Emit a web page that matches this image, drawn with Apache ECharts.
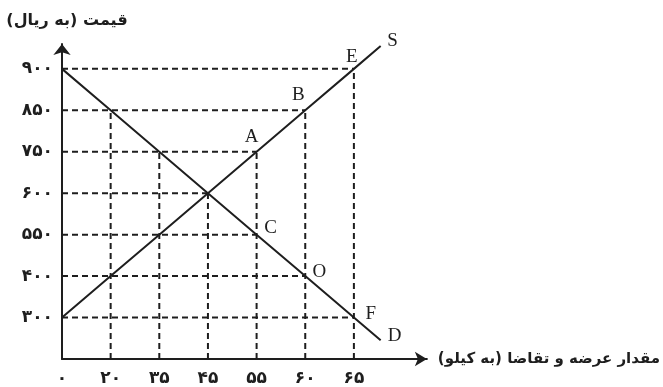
<!DOCTYPE html>
<html>
<head>
<meta charset="utf-8">
<script src="https://cdn.jsdelivr.net/npm/echarts@6/dist/echarts.min.js"></script>
<style>html,body{margin:0;padding:0;background:#fff}#main{width:663px;height:387px}</style>
</head>
<body>
<div id="main"></div>
<script>
// Tick values (schematic axes: each tick value sits on its own evenly spaced step)
const quantityTicks = [0, 20, 35, 45, 55, 60, 65];
const priceTicks = [300, 400, 550, 600, 750, 850, 900];
// Demand (D) and supply (S) prices at each quantity tick
const demandPrice = [900, 850, 750, 600, 550, 400, 300];
const supplyPrice = [300, 400, 550, 600, 750, 850, 900];
// Point letters
const supplyLetters = ['', '', '', '', 'A', 'B', 'E'];
const demandLetters = ['', '', '', '', 'C', 'O', 'F'];
const supplyName = 'S';
const demandName = 'D';
const yTitle = 'قیمت (به ریال)';
const xTitle = 'مقدار عرضه و تقاضا (به کیلو)';

const FA = '۰۱۲۳۴۵۶۷۸۹';
const toFa = n => String(n).replace(/\d/g, d => FA[d]);
const rtl = s => '\u202B' + s + '\u202C';
const xPos = q => quantityTicks.indexOf(q);
const yPos = p => priceTicks.indexOf(p) + 1;

const INK = '#1e1e1e';
const EXT = 0.55;

function linePoints(prices) {
  const pts = quantityTicks.map((q, i) => [xPos(q), yPos(prices[i])]);
  const a = pts[pts.length - 2], b = pts[pts.length - 1];
  pts.push([b[0] + (b[0] - a[0]) * EXT, b[1] + (b[1] - a[1]) * EXT]);
  return pts;
}
const sPts = linePoints(supplyPrice);
const dPts = linePoints(demandPrice);

const series = [];
const dashStyle = { color: INK, width: 2, type: [6, 4] };
// vertical guides
quantityTicks.forEach((q, i) => {
  if (i === 0) return;
  const top = Math.max(yPos(supplyPrice[i]), yPos(demandPrice[i]));
  series.push({ type: 'line', data: [[xPos(q), 0], [xPos(q), top]], symbol: 'none', lineStyle: dashStyle, silent: true, z: 1 });
});
// horizontal guides
priceTicks.forEach(p => {
  const xs = [];
  supplyPrice.forEach((v, i) => { if (v === p) xs.push(i); });
  demandPrice.forEach((v, i) => { if (v === p) xs.push(i); });
  const right = Math.max(...xs);
  series.push({ type: 'line', data: [[0, yPos(p)], [right, yPos(p)]], symbol: 'none', lineStyle: dashStyle, silent: true, z: 1 });
});

const letterStyle = { fontFamily: 'Liberation Serif', fontSize: 19, color: INK };
function curve(pts, name, letters, offsets, endOffset) {
  const data = pts.map((p, i) => {
    const lab = i < letters.length ? letters[i] : name;
    const off = i < letters.length ? offsets[i] : endOffset;
    return {
      value: p,
      label: lab ? Object.assign({ show: true, formatter: lab, position: 'inside', offset: off }, letterStyle) : { show: false }
    };
  });
  return { type: 'line', data, symbol: 'circle', symbolSize: 0.1, showSymbol: true, lineStyle: { color: INK, width: 2 }, itemStyle: { color: INK }, z: 3 };
}
series.push(curve(sPts, supplyName, supplyLetters,
  [null, null, null, null, [-5, -15], [-7, -15], [-2, -12]], [12, -5]));
series.push(curve(dPts, demandName, demandLetters,
  [null, null, null, null, [14, -7], [14, -4], [17, -4]], [14, -4]));

const faLabel = { fontFamily: 'DejaVu Sans', fontWeight: 'bold', fontSize: 17, color: INK };

const option = {
  animation: false,
  grid: { left: 62, right: 232, top: 44, bottom: 25, containLabel: false },
  xAxis: {
    type: 'value', min: 0, max: 7.5, interval: 1,
    name: rtl(xTitle), nameLocation: 'end', nameGap: 11,
    nameTextStyle: { fontFamily: 'DejaVu Sans', fontWeight: 'bold', fontSize: 15, color: INK, align: 'left', verticalAlign: 'middle', padding: [0, 0, 4, 0] },
    axisLine: { lineStyle: { color: INK, width: 2 }, symbol: ['none', 'arrow'], symbolSize: [11, 12] },
    axisTick: { show: false }, splitLine: { show: false },
    axisLabel: Object.assign({ margin: 11, formatter: v => (Number.isInteger(v) && v >= 0 && v < quantityTicks.length) ? toFa(quantityTicks[v]) : '' }, faLabel)
  },
  yAxis: {
    type: 'value', min: 0, max: 7.6, interval: 1,
    name: rtl(yTitle), nameLocation: 'end', nameGap: 15,
    nameTextStyle: { fontFamily: 'DejaVu Sans', fontWeight: 'bold', fontSize: 16, color: INK, align: 'center', padding: [0, 0, 0, 10] },
    axisLine: { lineStyle: { color: INK, width: 2 }, symbol: ['none', 'arrow'], symbolSize: [13, 11] },
    axisTick: { show: false }, splitLine: { show: false },
    axisLabel: Object.assign({ margin: 9, formatter: v => (Number.isInteger(v) && v >= 1 && v <= priceTicks.length) ? toFa(priceTicks[v - 1]) : '' }, faLabel)
  },
  series
};
const chart = echarts.init(document.getElementById('main'), null, { renderer: 'canvas' });
chart.setOption(option);
</script>
</body>
</html>
